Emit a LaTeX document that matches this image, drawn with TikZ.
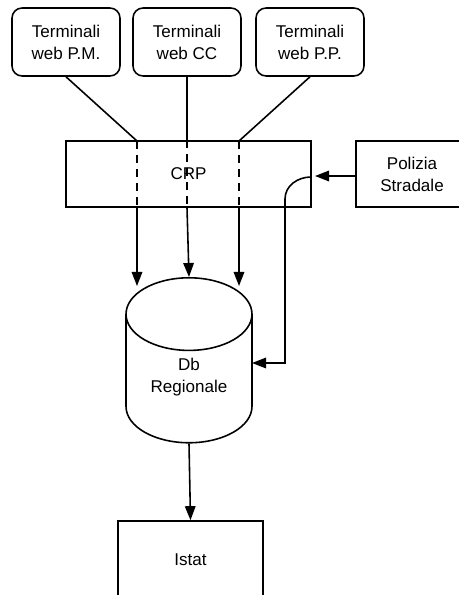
\documentclass[tikz,border=0pt]{standalone}
\usepackage{fontspec}
\setmainfont{Liberation Sans}
\usetikzlibrary{shapes.geometric,arrows.meta}

\tikzset{
  term/.style={draw, rounded corners=0.2cm, minimum width=2.16cm, minimum height=1.36cm, align=center},
  box/.style={draw, minimum height=1.32cm, align=center},
  arr/.style={-{Triangle[length=8pt,width=6pt]}},
  crpdash/.style={dash pattern=on 4.5pt off 3.5pt},
}

\begin{document}
\begin{tikzpicture}[x=0.02cm, y=0.02cm, line width=0.9pt, font=\fontsize{9.7}{12.5}\selectfont]
\useasboundingbox (0,0) rectangle (458,-595);

% terminali
\node[term] (pm) at (66,-42) {Terminali\\web P.M.};
\node[term] (cc) at (187,-42) {Terminali\\web CC};
\node[term] (pp) at (310,-42) {Terminali\\web P.P.};

\node[box, minimum width=4.9cm] (crp) at (188.5,-174) {CRP};
\node[box, minimum width=2.24cm] (polizia) at (412,-174) {Polizia\\Stradale};

\node[draw, cylinder, shape border rotate=90, aspect=6.2, minimum width=2.52cm, minimum height=3.3cm, anchor=top] (db) at (189,-277) {};
\node[align=center] (dbtxt) at (189,-377) {Db\\Regionale};

\node[box, minimum width=2.9cm, minimum height=1.56cm] (istat) at (190.5,-560) {Istat};

% punti di passaggio nel CRP
\coordinate (a1) at (137,-141);
\coordinate (a2) at (cc.south |- crp.north);
\coordinate (a3) at (239,-141);
\coordinate (b1) at (137,-207);
\coordinate (b2) at (cc.south |- crp.south);
\coordinate (b3) at (239,-207);
\coordinate (c1) at (137,-286);
\coordinate (c3) at (239,-286);
\coordinate (dbin) at (252,-363);

\draw (pm.south) -- (a1);
\draw (cc.south) -- (a2);
\draw (pp.south) -- (a3);
\draw[crpdash] (a1) -- (b1);
\draw[crpdash] (a2) -- (b2);
\draw[crpdash] (a3) -- (b3);
\draw[arr] (b1) -- (c1);
\draw[arr] (b2) -- (db.top);
\draw[arr] (b3) -- (c3);

\draw[arr] (polizia.west |- 0,-176) -- (315,-176);
\draw[arr] (311,-177) to[out=180,in=90] (285,-199) |- (dbin);

\draw[arr] (db.bottom) -- (istat.north);
\end{tikzpicture}
\end{document}
